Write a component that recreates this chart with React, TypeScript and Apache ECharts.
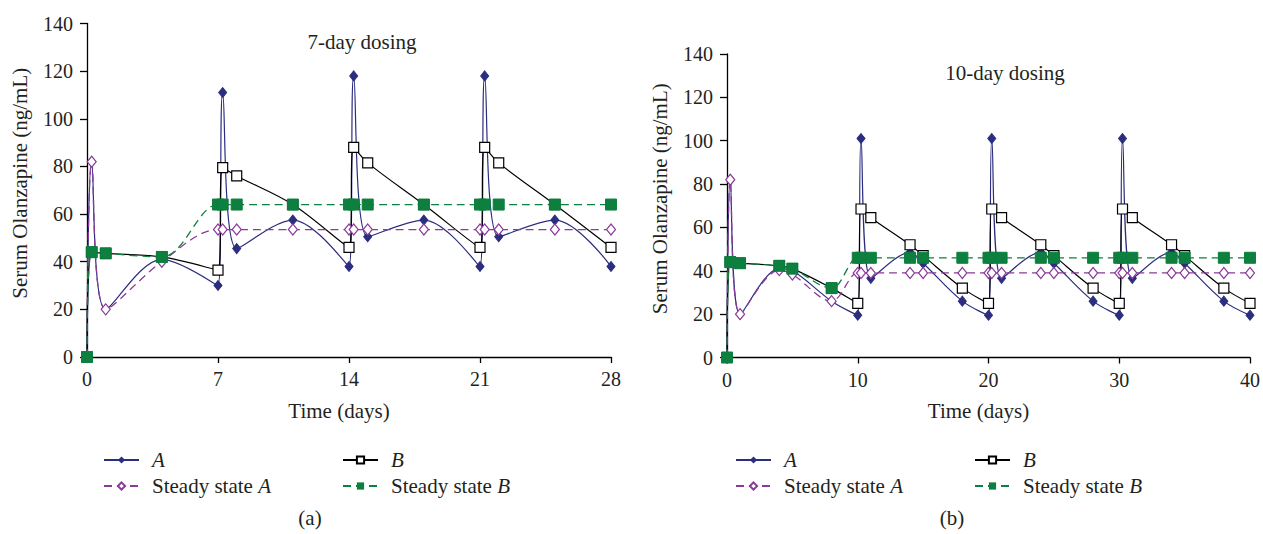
import React, { useEffect, useRef } from "react";
import * as echarts from "echarts";

// ---- Data: (a) 7-day dosing ----
const daysL = [0, 0.25, 1, 4, 7, 7.25, 8, 11, 14, 14.25, 15, 18, 21, 21.25, 22, 25, 28];
const aL = [0, 82, 20, 41, 30, 111, 45.5, 57.5, 38, 118, 50.5, 57.5, 38, 118, 50.5, 57.5, 38];
const bL = [0, 44, 43.5, 42, 36.5, 79.5, 76, 64, 46, 88, 81.5, 64, 46, 88, 81.5, 64, 46];
const ssAL = [0, 82, 20, 40, 53.5, 53.5, 53.5, 53.5, 53.5, 53.5, 53.5, 53.5, 53.5, 53.5, 53.5, 53.5, 53.5];
const ssBL = [0, 44, 43.5, 42, 64, 64, 64, 64, 64, 64, 64, 64, 64, 64, 64, 64, 64];

// ---- Data: (b) 10-day dosing ----
const daysR = [0, 0.25, 1, 4, 5, 8, 10, 10.25, 11, 14, 15, 18, 20, 20.25, 21, 24, 25, 28, 30, 30.25, 31, 34, 35, 38, 40];
const aR = [0, 82, 20, 41, 40, 26, 19.5, 101, 36.5, 48.5, 43.5, 26, 19.5, 101, 36.5, 48.5, 43.5, 26, 19.5, 101, 36.5, 48.5, 43.5, 26, 19.5];
const bR = [0, 44, 43.5, 42.3, 41, 32, 25, 68.5, 64.5, 52, 47, 32, 25, 68.5, 64.5, 52, 47, 32, 25, 68.5, 64.5, 52, 47, 32, 25];
const ssAR = [0, 82, 20, 40.3, 38.3, 26, 39, 39, 39, 39, 39, 39, 39, 39, 39, 39, 39, 39, 39, 39, 39, 39, 39, 39, 39];
const ssBR = [0, 44, 43.5, 42.3, 41, 32, 46, 46, 46, 46, 46, 46, 46, 46, 46, 46, 46, 46, 46, 46, 46, 46, 46, 46, 46];

const seriesNames = ["A", "B", "Steady state A", "Steady state B"];
const panelTitles = ["7-day dosing", "10-day dosing"];
const panelLabels = ["(a)", "(b)"];
const xMaxes = [28, 40];
const xIntervals = [7, 10];
const yMax = 140;
const yInterval = 20;
const yName = "Serum Olanzapine (ng/mL)";
const xName = "Time (days)";

const FONT = "Liberation Serif";
const TXT = "#231f20";
const NAVY = "#2b2d7f";
const PURPLE = "#8a3a98";
const GREEN = "#0d7f3f";
const BLACK = "#000000";

const pairs = (xs: number[], ys: number[]) => xs.map((x, i) => [x, ys[i]]);

export default function App() {
  const ref = useRef<HTMLDivElement>(null);
  useEffect(() => {
    if (!ref.current) return;
    const chart = echarts.init(ref.current, null, { renderer: "svg" });

    const grids = [
      { left: 87, right: 652, top: 23.5, bottom: 177, containLabel: false },
      { left: 727, right: 10, top: 54, bottom: 176.5, containLabel: false },
    ];

    const axisLineStyle = { lineStyle: { color: BLACK, width: 1.3 } };
    const tickStyle = { fontFamily: FONT, fontSize: 20, color: TXT };
    const nameStyle = { fontFamily: FONT, fontSize: 21, color: TXT };

    const xAxes = [0, 1].map((i) => ({
      type: "value",
      gridIndex: i,
      min: 0,
      max: xMaxes[i],
      interval: xIntervals[i],
      splitLine: { show: false },
      axisLine: { show: true, ...axisLineStyle },
      axisTick: { show: true, inside: false, length: 6, lineStyle: { color: BLACK, width: 1.3 } },
      axisLabel: { ...tickStyle, margin: 12 },
      name: xName,
      nameLocation: "middle",
      nameGap: 43,
      nameTextStyle: { ...nameStyle, padding: [0, 20, 0, 0] },
    }));

    const yAxes = [0, 1].map((i) => ({
      type: "value",
      gridIndex: i,
      min: 0,
      max: yMax,
      interval: yInterval,
      splitLine: { show: false },
      axisLine: { show: true, ...axisLineStyle },
      axisTick: { show: true, inside: false, length: 7, lineStyle: { color: BLACK, width: 1.3 } },
      axisLabel: { ...tickStyle, margin: 14 },
      name: yName,
      nameLocation: "middle",
      nameGap: 57,
      nameRotate: 90,
      nameTextStyle: { ...nameStyle, padding: [0, 0, 0, 14] },
    }));

    const dataSets = [
      [daysL, aL, bL, ssAL, ssBL],
      [daysR, aR, bR, ssAR, ssBR],
    ];

    const series: any[] = [];
    [0, 1].forEach((i) => {
      const [days, a, b, ssA, ssB] = dataSets[i];
      series.push({
        name: seriesNames[0],
        type: "line",
        xAxisIndex: i,
        yAxisIndex: i,
        data: pairs(days, a),
        smooth: 0.35,
        symbol: "diamond",
        symbolSize: [8, 10],
        lineStyle: { color: NAVY, width: 1.2 },
        itemStyle: { color: NAVY, borderColor: NAVY },
      });
      series.push({
        name: seriesNames[1],
        type: "line",
        xAxisIndex: i,
        yAxisIndex: i,
        data: pairs(days, b),
        smooth: 0.35,
        symbol: "rect",
        symbolSize: 10,
        lineStyle: { color: BLACK, width: 1.2 },
        itemStyle: { color: "#ffffff", borderColor: BLACK, borderWidth: 1.2 },
      });
      series.push({
        name: seriesNames[2],
        type: "line",
        xAxisIndex: i,
        yAxisIndex: i,
        data: pairs(days, ssA),
        smooth: 0.35,
        symbol: "diamond",
        symbolSize: [9, 11],
        lineStyle: { color: PURPLE, width: 1.3, type: [8, 5] },
        itemStyle: { color: "#ffffff", borderColor: PURPLE, borderWidth: 1.2 },
      });
      series.push({
        name: seriesNames[3],
        type: "line",
        xAxisIndex: i,
        yAxisIndex: i,
        data: pairs(days, ssB),
        smooth: 0.35,
        symbol: "rect",
        symbolSize: 11,
        lineStyle: { color: GREEN, width: 1.3, type: [8, 5] },
        itemStyle: { color: GREEN, borderColor: GREEN },
      });
    });

    const rich = {
      p: { fontFamily: FONT, fontSize: 21, color: TXT, padding: [0, 0, 0, 8] },
      i: { fontFamily: FONT, fontSize: 21, color: TXT, fontStyle: "italic" },
      ip: { fontFamily: FONT, fontSize: 21, color: TXT, fontStyle: "italic", padding: [0, 0, 0, 8] },
    };
    const fmt = (name: string) => {
      if (name === "A") return "{ip|A}";
      if (name === "B") return "{ip|B}";
      if (name === "Steady state A") return "{p|Steady state }{i|A}";
      return "{p|Steady state }{i|B}";
    };
    const mkLegend = (left: number, names: string[]) => ({
      left,
      top: 444,
      orient: "vertical",
      data: names,
      itemWidth: 35,
      itemHeight: 9,
      itemGap: 4,
      selectedMode: false,
      formatter: fmt,
      textStyle: { fontFamily: FONT, fontSize: 21, color: TXT, lineHeight: 22, rich },
    });

    const txt = (x: number, y: number, text: string) => ({
      type: "text",
      x,
      y,
      style: { text, font: `21px "${FONT}"`, fill: TXT, textAlign: "center", textVerticalAlign: "middle" },
    });

    chart.setOption({
      animation: false,
      backgroundColor: "#ffffff",
      grid: grids,
      xAxis: xAxes,
      yAxis: yAxes,
      series,
      legend: [
        mkLegend(98, ["A", "Steady state A"]),
        mkLegend(337, ["B", "Steady state B"]),
        mkLegend(730, ["A", "Steady state A"]),
        mkLegend(969, ["B", "Steady state B"]),
      ],
      graphic: [
        txt(362, 42, panelTitles[0]),
        txt(1005, 73, panelTitles[1]),
        txt(310, 518, panelLabels[0]),
        txt(952, 518, panelLabels[1]),
      ],
    });
    return () => chart.dispose();
  }, []);
  return <div ref={ref} style={{ position: "fixed", left: 0, top: 0, width: 1263, height: 534 }} />;
}
